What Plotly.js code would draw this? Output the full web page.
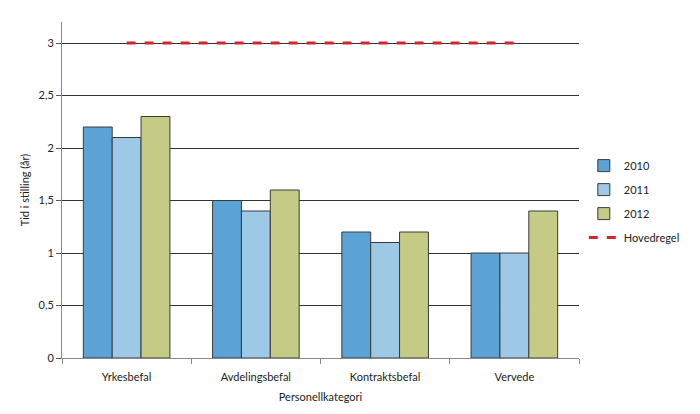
<!DOCTYPE html>
<html><head><meta charset="utf-8">
<script src="https://cdn.plot.ly/plotly-3.0.1.min.js"></script>
<style>body{margin:0;}#c{width:700px;height:414px;}</style>
</head><body><div id="c"></div>
<script>
const categories = ["Yrkesbefal", "Avdelingsbefal", "Kontraktsbefal", "Vervede"];
const v2010 = [2.2, 1.5, 1.2, 1.0];
const v2011 = [2.1, 1.4, 1.1, 1.0];
const v2012 = [2.3, 1.6, 1.2, 1.4];
const hovedregel = [3, 3, 3, 3];
const yTicks = [0, 0.5, 1, 1.5, 2, 2.5, 3];
const yTickText = ["0", "0,5", "1", "1,5", "2", "2,5", "3"];

const line = {color: "#3a3a3a", width: 1};
const traces = [
  {type: "bar", name: "2010", legendgroup: "a", x: categories, y: v2010, marker: {color: "#5BA3D5", line: line}},
  {type: "bar", name: "2011", legendgroup: "b", x: categories, y: v2011, marker: {color: "#9DC8E6", line: line}},
  {type: "bar", name: "2012", legendgroup: "c", x: categories, y: v2012, marker: {color: "#C5CB85", line: line}},
  {type: "scatter", mode: "lines", name: "Hovedregel", legendgroup: "d", x: categories, y: hovedregel,
   line: {color: "#D7262B", width: 3, dash: "dash"}}
];
const layout = {
  width: 700, height: 414,
  margin: {l: 62, r: 121, t: 22, b: 56},
  paper_bgcolor: "#fff", plot_bgcolor: "#fff",
  font: {family: "Lato, 'Open Sans', sans-serif", size: 11, color: "#222"},
  barmode: "group", bargap: 0.33, bargroupgap: 0,
  showlegend: true,
  legend: {xref: "container", yref: "container", x: 0.834, y: 0.635, xanchor: "left", yanchor: "top",
           traceorder: "grouped", tracegroupgap: 5, font: {size: 11}},
  xaxis: {type: "category", tickson: "boundaries", ticks: "outside", ticklen: 5,
          tickcolor: "#888", showline: true, linecolor: "#888", linewidth: 1,
          showgrid: false, zeroline: false, fixedrange: true, ticklabelstandoff: 9,
          title: {text: "Personellkategori", font: {size: 11}, standoff: 11}},
  yaxis: {range: [0, 3.2], tickvals: yTicks, ticktext: yTickText, ticks: "outside",
          ticklen: 5, tickcolor: "#555", showline: true, linecolor: "#888", linewidth: 1,
          showgrid: true, gridcolor: "#333", gridwidth: 1, zeroline: false,
          title: {text: "Tid i stilling (år)", font: {size: 11}, standoff: 6}}
};
Plotly.newPlot("c", traces, layout, {displayModeBar: false, staticPlot: true});
</script></body></html>
